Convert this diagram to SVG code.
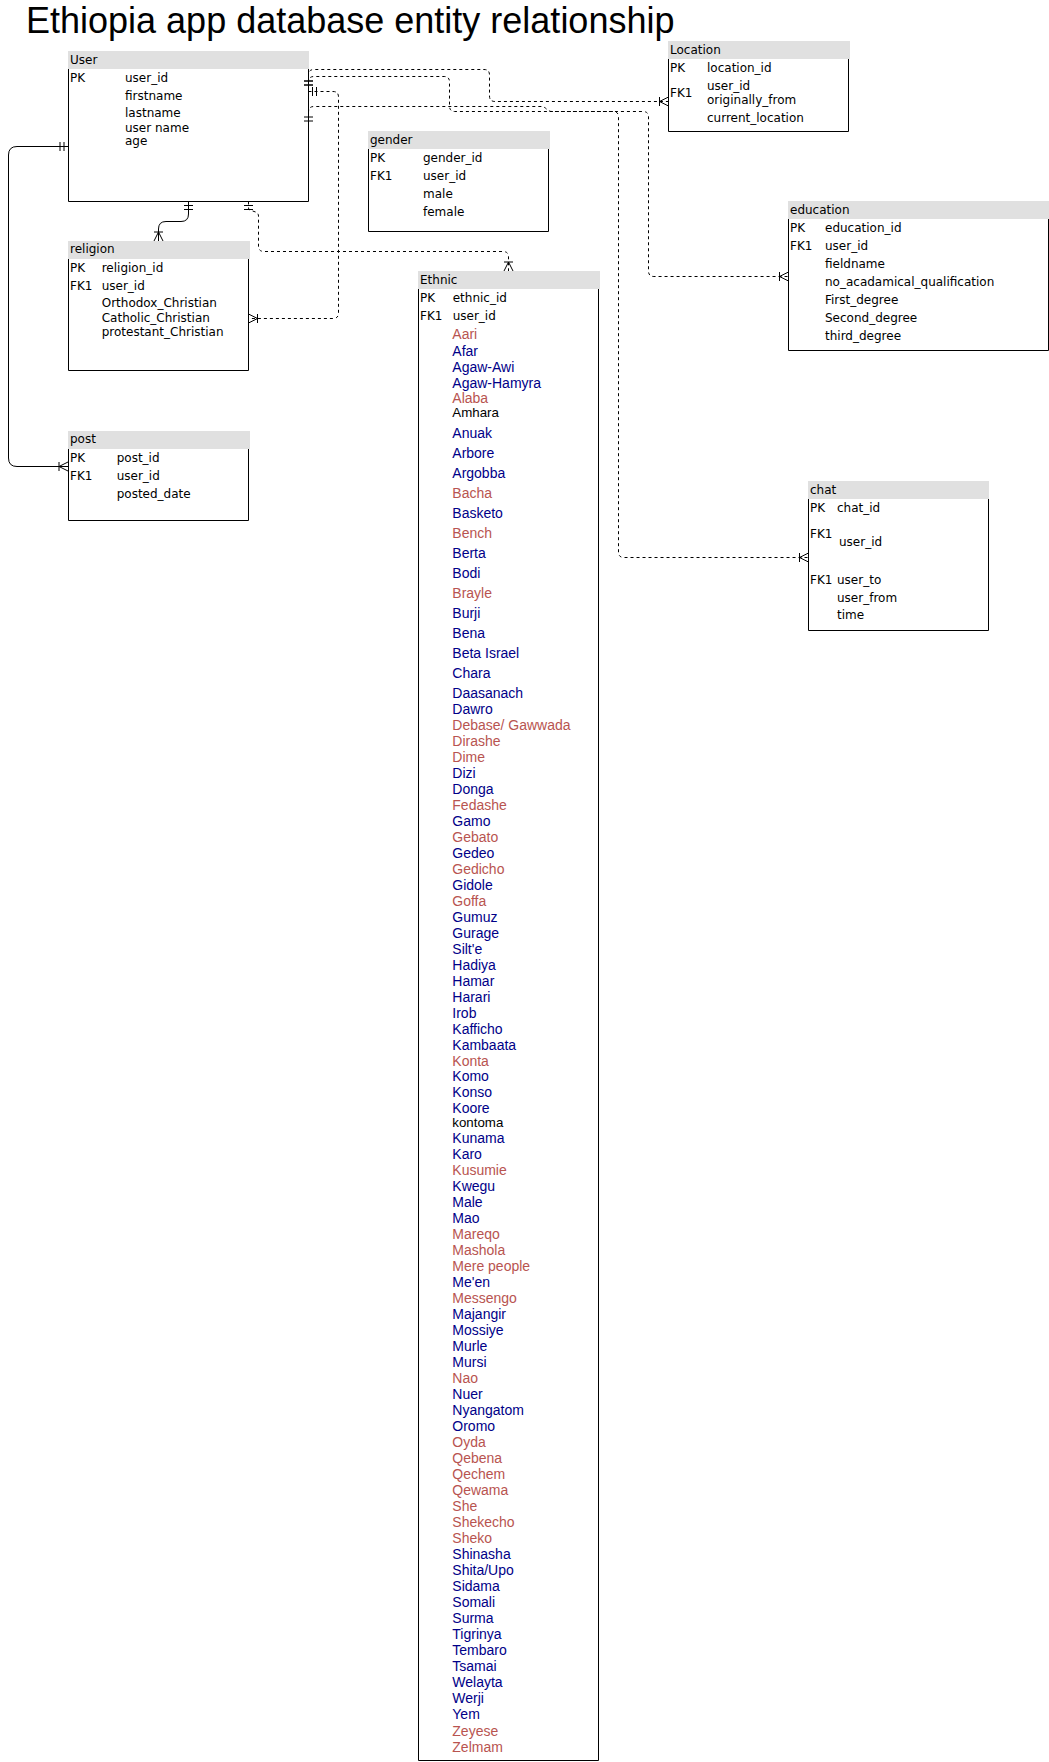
<svg xmlns="http://www.w3.org/2000/svg" width="1049" height="1762" viewBox="0 0 1049 1762">
<style>
.t{font-family:"DejaVu Sans",Verdana,sans-serif;font-size:12px;fill:#000}
.hd{fill:#e0e0e0;stroke:none}
.bx{fill:none;stroke:#000;stroke-width:1}
.e{font-family:"Liberation Sans",Arial,sans-serif;font-size:14px}
.r{fill:#b85450}
.b{fill:#000088}
.k{fill:#000;font-size:13.3px}
.c{fill:none;stroke:#000;stroke-width:1}
.d{stroke-dasharray:3 3}
.title{font-family:"Liberation Sans",Arial,sans-serif;font-size:36px;fill:#000}
</style>
<defs>
<marker id="one" markerUnits="userSpaceOnUse" markerWidth="24" markerHeight="24" viewBox="-12 -12 24 24" refX="0" refY="0" orient="auto" overflow="visible">
<path d="M4,-4.5V4.5M8,-4.5V4.5" fill="none" stroke="#000" stroke-width="1"/>
</marker>
<marker id="many" markerUnits="userSpaceOnUse" markerWidth="24" markerHeight="24" viewBox="-12 -12 24 24" refX="0" refY="0" orient="auto" overflow="visible">
<path d="M-9,-4.5V4.5M-9,0L0,-4.5M-9,0L0,4.5" fill="none" stroke="#000" stroke-width="1"/>
</marker>
</defs>
<rect x="0" y="0" width="1049" height="1762" fill="#fff"/>
<text class="title" x="26" y="33">Ethiopia app database entity relationship</text>

<g id="connectors">
<path id="user-location" class="c d" marker-start="url(#one)" marker-end="url(#many)" d="M308.5,89 V75 Q308.5,69.5 314,69.5 H484 Q489.5,69.5 489.5,75 V96 Q489.5,101.5 495,101.5 H668.5"/>
<path id="user-chat" class="c d" marker-start="url(#one)" marker-end="url(#many)" d="M308.5,89 V82 Q308.5,76.5 314,76.5 H444 Q449.5,76.5 449.5,82 V106 Q449.5,111.5 455,111.5 H613 Q618.5,111.5 618.5,117 V552 Q618.5,557.5 624,557.5 H808.5"/>
<path id="user-religion-dashed" class="c d" marker-start="url(#one)" marker-end="url(#many)" d="M308.5,91.5 H333 Q338.5,91.5 338.5,97 V313 Q338.5,318.5 333,318.5 H248.5"/>
<path id="user-education" class="c d" marker-start="url(#one)" marker-end="url(#many)" d="M308.5,125 V112 Q308.5,106.5 314,106.5 H541 C546.5,106.5 546.5,111.5 552,111.5 H643 Q648.5,111.5 648.5,117 V271 Q648.5,276.5 654,276.5 H788.5"/>
<path id="user-ethnic" class="c d" marker-start="url(#one)" marker-end="url(#many)" d="M248.5,201.5 V208 C248.5,212 258.5,210 258.5,216 V246 Q258.5,251.5 264,251.5 H503 Q508.5,251.5 508.5,257 V271"/>
<path id="user-religion" class="c" marker-start="url(#one)" marker-end="url(#many)" d="M188.5,201.5 V214 Q188.5,221.5 181,221.5 H166 Q158.5,221.5 158.5,229 V241"/>
<path id="user-post" class="c" marker-start="url(#one)" marker-end="url(#many)" d="M68,146.5 H17 Q8.5,146.5 8.5,155 V458 Q8.5,466.5 17,466.5 H68"/>
</g>

<g id="user">
<rect class="hd" x="68" y="51" width="241" height="18"/>
<path class="bx" d="M68.5,69 V201.5 H308.5 V69"/>
<text class="t" x="70" y="64">User</text>
<text class="t" x="70" y="82.3">PK</text>
<text class="t" x="125" y="82.3">user_id</text>
<text class="t" x="125" y="99.5">firstname</text>
<text class="t" x="125" y="117.3">lastname</text>
<text class="t" x="125" y="131.5">user name</text>
<text class="t" x="125" y="145.3">age</text>
</g>

<g id="location">
<rect class="hd" x="668" y="41" width="182" height="18"/>
<path class="bx" d="M668.5,59 V131.5 H848.5 V59"/>
<text class="t" x="670" y="54">Location</text>
<text class="t" x="670" y="71.7">PK</text>
<text class="t" x="707" y="71.7">location_id</text>
<text class="t" x="670" y="96.7">FK1</text>
<text class="t" x="707" y="89.8">user_id</text>
<text class="t" x="707" y="103.8">originally_from</text>
<text class="t" x="707" y="121.7">current_location</text>
</g>

<g id="gender">
<rect class="hd" x="368" y="131" width="182" height="18"/>
<path class="bx" d="M368.5,149 V231.5 H548.5 V149"/>
<text class="t" x="370" y="143.5">gender</text>
<text class="t" x="370" y="161.7">PK</text>
<text class="t" x="423" y="161.7">gender_id</text>
<text class="t" x="370" y="179.7">FK1</text>
<text class="t" x="423" y="179.7">user_id</text>
<text class="t" x="423" y="197.7">male</text>
<text class="t" x="423" y="215.7">female</text>
</g>

<g id="education">
<rect class="hd" x="788" y="201" width="261" height="18"/>
<path class="bx" d="M788.5,219 V350.5 H1048.5 V219"/>
<text class="t" x="790" y="213.7">education</text>
<text class="t" x="790" y="231.7">PK</text>
<text class="t" x="825" y="231.7">education_id</text>
<text class="t" x="790" y="249.7">FK1</text>
<text class="t" x="825" y="249.7">user_id</text>
<text class="t" x="825" y="267.7">fieldname</text>
<text class="t" x="825" y="285.7">no_acadamical_qualification</text>
<text class="t" x="825" y="303.7">First_degree</text>
<text class="t" x="825" y="321.7">Second_degree</text>
<text class="t" x="825" y="339.7">third_degree</text>
</g>

<g id="chat">
<rect class="hd" x="808" y="481" width="181" height="18"/>
<path class="bx" d="M808.5,499 V630.5 H988.5 V499"/>
<text class="t" x="810" y="493.7">chat</text>
<text class="t" x="810" y="511.7">PK</text>
<text class="t" x="837" y="511.7">chat_id</text>
<text class="t" x="810" y="538.3">FK1</text>
<text class="t" x="839" y="546">user_id</text>
<text class="t" x="810" y="584">FK1</text>
<text class="t" x="837" y="584">user_to</text>
<text class="t" x="837" y="601.7">user_from</text>
<text class="t" x="837" y="619.3">time</text>
</g>

<g id="religion">
<rect class="hd" x="68" y="241" width="182" height="18"/>
<path class="bx" d="M68.5,259 V370.5 H248.5 V259"/>
<text class="t" x="70" y="253.3">religion</text>
<text class="t" x="70" y="271.7">PK</text>
<text class="t" x="101.7" y="271.7">religion_id</text>
<text class="t" x="70" y="289.7">FK1</text>
<text class="t" x="101.7" y="289.7">user_id</text>
<text class="t" x="101.7" y="307.3">Orthodox_Christian</text>
<text class="t" x="101.7" y="321.5">Catholic_Christian</text>
<text class="t" x="101.7" y="335.7">protestant_Christian</text>
</g>

<g id="post">
<rect class="hd" x="68" y="431" width="182" height="18"/>
<path class="bx" d="M68.5,449 V520.5 H248.5 V449"/>
<text class="t" x="70" y="443.3">post</text>
<text class="t" x="70" y="461.7">PK</text>
<text class="t" x="116.7" y="461.7">post_id</text>
<text class="t" x="70" y="479.7">FK1</text>
<text class="t" x="116.7" y="479.7">user_id</text>
<text class="t" x="116.7" y="497.7">posted_date</text>
</g>

<g id="ethnic">
<rect class="hd" x="418" y="271" width="182" height="18"/>
<path class="bx" d="M418.5,289 V1760.5 H598.5 V289"/>
<text class="t" x="420" y="283.7">Ethnic</text>
<text class="t" x="420" y="301.7">PK</text>
<text class="t" x="452.7" y="301.7">ethnic_id</text>
<text class="t" x="420" y="319.7">FK1</text>
<text class="t" x="452.7" y="319.7">user_id</text>
<g class="e">
<text class="r" x="452.3" y="339.3">Aari</text>
<text class="b" x="452.3" y="355.7">Afar</text>
<text class="b" x="452.3" y="371.7">Agaw-Awi</text>
<text class="b" x="452.3" y="387.7">Agaw-Hamyra</text>
<text class="r" x="452.3" y="403.3">Alaba</text>
<text class="k" x="452.3" y="417.3">Amhara</text>
<text class="b" x="452.3" y="437.7">Anuak</text>
<text class="b" x="452.3" y="457.7">Arbore</text>
<text class="b" x="452.3" y="477.7">Argobba</text>
<text class="r" x="452.3" y="497.7">Bacha</text>
<text class="b" x="452.3" y="517.7">Basketo</text>
<text class="r" x="452.3" y="537.7">Bench</text>
<text class="b" x="452.3" y="557.7">Berta</text>
<text class="b" x="452.3" y="577.7">Bodi</text>
<text class="r" x="452.3" y="597.7">Brayle</text>
<text class="b" x="452.3" y="617.7">Burji</text>
<text class="b" x="452.3" y="637.7">Bena</text>
<text class="b" x="452.3" y="657.7">Beta Israel</text>
<text class="b" x="452.3" y="677.7">Chara</text>
<text class="b" x="452.3" y="697.7">Daasanach</text>
<text class="b" x="452.3" y="713.7">Dawro</text>
<text class="r" x="452.3" y="729.7">Debase/ Gawwada</text>
<text class="r" x="452.3" y="745.7">Dirashe</text>
<text class="r" x="452.3" y="761.7">Dime</text>
<text class="b" x="452.3" y="777.7">Dizi</text>
<text class="b" x="452.3" y="793.7">Donga</text>
<text class="r" x="452.3" y="809.7">Fedashe</text>
<text class="b" x="452.3" y="825.7">Gamo</text>
<text class="r" x="452.3" y="841.7">Gebato</text>
<text class="b" x="452.3" y="857.7">Gedeo</text>
<text class="r" x="452.3" y="873.7">Gedicho</text>
<text class="b" x="452.3" y="889.7">Gidole</text>
<text class="r" x="452.3" y="905.7">Goffa</text>
<text class="b" x="452.3" y="921.7">Gumuz</text>
<text class="b" x="452.3" y="937.7">Gurage</text>
<text class="b" x="452.3" y="953.7">Silt'e</text>
<text class="b" x="452.3" y="969.7">Hadiya</text>
<text class="b" x="452.3" y="985.7">Hamar</text>
<text class="b" x="452.3" y="1001.7">Harari</text>
<text class="b" x="452.3" y="1017.7">Irob</text>
<text class="b" x="452.3" y="1033.7">Kafficho</text>
<text class="b" x="452.3" y="1049.7">Kambaata</text>
<text class="r" x="452.3" y="1065.7">Konta</text>
<text class="b" x="452.3" y="1081.3">Komo</text>
<text class="b" x="452.3" y="1097">Konso</text>
<text class="b" x="452.3" y="1113.3">Koore</text>
<text class="k" x="452.3" y="1127.3">kontoma</text>
<text class="b" x="452.3" y="1143.3">Kunama</text>
<text class="b" x="452.3" y="1159.3">Karo</text>
<text class="r" x="452.3" y="1175.3">Kusumie</text>
<text class="b" x="452.3" y="1191.3">Kwegu</text>
<text class="b" x="452.3" y="1207.3">Male</text>
<text class="b" x="452.3" y="1223.3">Mao</text>
<text class="r" x="452.3" y="1239.3">Mareqo</text>
<text class="r" x="452.3" y="1255.3">Mashola</text>
<text class="r" x="452.3" y="1271.3">Mere people</text>
<text class="b" x="452.3" y="1287.3">Me'en</text>
<text class="r" x="452.3" y="1303.3">Messengo</text>
<text class="b" x="452.3" y="1319.3">Majangir</text>
<text class="b" x="452.3" y="1335.3">Mossiye</text>
<text class="b" x="452.3" y="1351.3">Murle</text>
<text class="b" x="452.3" y="1367.3">Mursi</text>
<text class="r" x="452.3" y="1383.3">Nao</text>
<text class="b" x="452.3" y="1399.3">Nuer</text>
<text class="b" x="452.3" y="1415.3">Nyangatom</text>
<text class="b" x="452.3" y="1431.3">Oromo</text>
<text class="r" x="452.3" y="1447.3">Oyda</text>
<text class="r" x="452.3" y="1463.3">Qebena</text>
<text class="r" x="452.3" y="1479.3">Qechem</text>
<text class="r" x="452.3" y="1495.3">Qewama</text>
<text class="r" x="452.3" y="1511.3">She</text>
<text class="r" x="452.3" y="1527.3">Shekecho</text>
<text class="r" x="452.3" y="1543.3">Sheko</text>
<text class="b" x="452.3" y="1559.3">Shinasha</text>
<text class="b" x="452.3" y="1575.3">Shita/Upo</text>
<text class="b" x="452.3" y="1591.3">Sidama</text>
<text class="b" x="452.3" y="1607.3">Somali</text>
<text class="b" x="452.3" y="1623.3">Surma</text>
<text class="b" x="452.3" y="1639.3">Tigrinya</text>
<text class="b" x="452.3" y="1655.3">Tembaro</text>
<text class="b" x="452.3" y="1671.3">Tsamai</text>
<text class="b" x="452.3" y="1687.3">Welayta</text>
<text class="b" x="452.3" y="1703.3">Werji</text>
<text class="b" x="452.3" y="1719.3">Yem</text>
<text class="r" x="452.3" y="1735.5">Zeyese</text>
<text class="r" x="452.3" y="1751.5">Zelmam</text>
</g>
</g>
</svg>
